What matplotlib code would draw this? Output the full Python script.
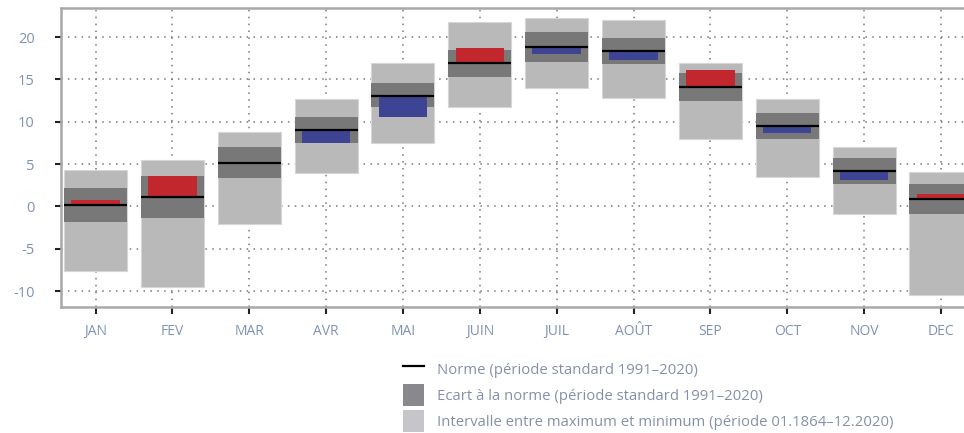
import matplotlib.pyplot as plt
from matplotlib.lines import Line2D
from matplotlib.patches import Patch

plt.rcParams['font.family'] = ['Open Sans', 'DejaVu Sans']

months = ['JAN', 'FEV', 'MAR', 'AVR', 'MAI', 'JUIN', 'JUIL', 'AOÛT', 'SEP', 'OCT', 'NOV', 'DEC']
norme = [0.18, 1.09, 5.17, 9.03, 13.08, 16.9, 18.87, 18.36, 14.07, 9.5, 4.23, 0.85]
ecart_bas = [-1.87, -1.4, 3.4, 7.46, 11.8, 15.3, 17.06, 16.8, 12.5, 7.97, 2.7, -0.92]
ecart_haut = [2.15, 3.6, 7.0, 10.6, 14.6, 18.5, 20.6, 19.9, 15.8, 11.0, 5.76, 2.66]
extr_min = [-7.6, -9.47, -2.07, 3.92, 7.46, 11.8, 13.95, 12.77, 8.0, 3.45, -0.92, -10.45]
extr_max = [4.3, 5.5, 8.83, 12.7, 17.0, 21.8, 22.3, 22.0, 17.0, 12.7, 7.0, 4.04]
mesure = [0.77, 3.6, 5.17, 7.46, 10.6, 18.7, 18.0, 17.3, 16.1, 8.68, 3.13, 1.51]

light = '#b9b9b9'
dark = '#787878'
red = '#c1272d'
blue = '#3e4494'
txt = '#7f92b4'

x = list(range(1, 13))
w = 0.82
wa = 0.63

fig = plt.figure(figsize=(9.64, 4.33), dpi=100)
ax = fig.add_axes([0.0633, 0.291, 0.9367, 0.6905])

ax.bar(x, [a - b for a, b in zip(extr_max, extr_min)], bottom=extr_min, width=w,
       color=light, edgecolor='#d6d6d6', linewidth=0.8, zorder=2)
ax.bar(x, [a - b for a, b in zip(ecart_haut, ecart_bas)], bottom=ecart_bas, width=w,
       color=dark, linewidth=0, zorder=3)
anom = [m - n for m, n in zip(mesure, norme)]
cols = [red if a > 0 else blue for a in anom]
ax.bar(x, anom, bottom=norme, width=wa, color=cols, linewidth=0, zorder=4)
ax.hlines(norme, [i - w / 2 for i in x], [i + w / 2 for i in x], color='black', linewidth=1.6, zorder=5)

ax.set_xlim(0.551, 12.30)
ax.set_ylim(-11.87, 23.44)
ax.set_xticks(x)
ax.set_xticklabels(months)
ax.set_yticks([-10, -5, 0, 5, 10, 15, 20])
ax.set_yticklabels(['-10', '-5', '0', '5', '10', '15', '20'])
ax.tick_params(axis='y', length=4, width=1.5, color='#222222', pad=15, labelsize=10.5, labelcolor=txt)
ax.tick_params(axis='x', length=5, width=1.5, color='#222222', pad=7, labelsize=10, labelcolor=txt)

ax.grid(True, color='#777777', linestyle=(0, (1, 3.5)), linewidth=1.1)
ax.set_axisbelow(True)
for s in ['left', 'bottom', 'top']:
    ax.spines[s].set_color('#a8a8a8')
    ax.spines[s].set_linewidth(1.8)
ax.spines['right'].set_visible(False)

handles = [Line2D([0], [0], color='black', linewidth=1.6),
           Patch(facecolor='#88888d', edgecolor='none'),
           Patch(facecolor='#c6c6ca', edgecolor='none')]
labels = ['Norme (période standard 1991–2020)',
          'Ecart à la norme (période standard 1991–2020)',
          'Intervalle entre maximum et minimum (période 01.1864–12.2020)']
fig.legend(handles, labels, loc='upper left', bbox_to_anchor=(0.4177, 0.173),
           frameon=False, fontsize=10.7, handlelength=1.45, handleheight=1.95,
           labelspacing=0.22, handletextpad=0.85, borderpad=0, borderaxespad=0,
           labelcolor='#8590a8')

fig.savefig('out.png', dpi=100)
